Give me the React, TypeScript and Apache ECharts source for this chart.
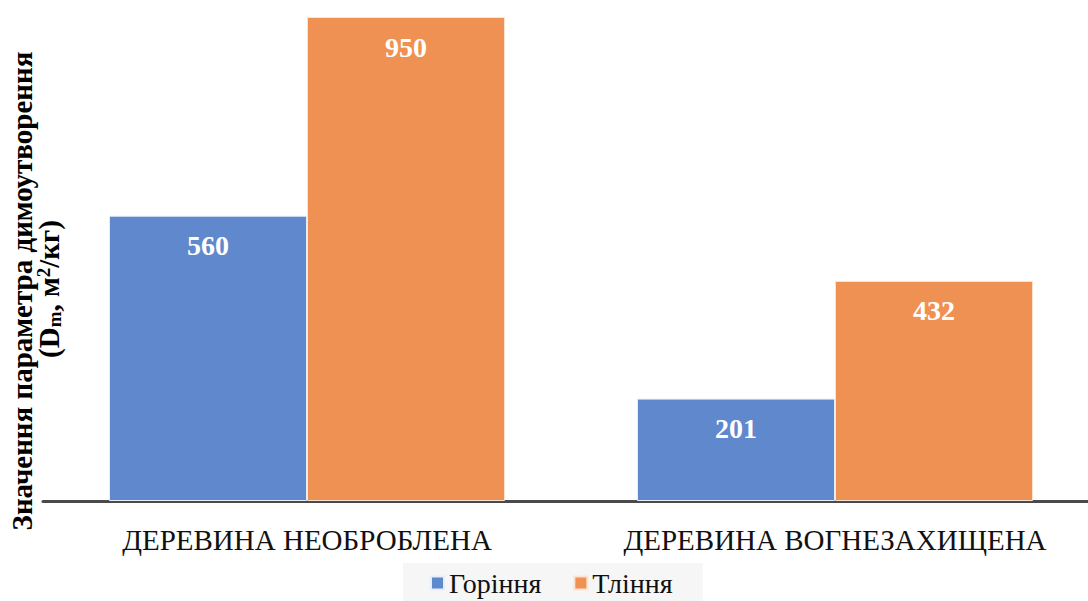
import React, { useEffect, useRef } from "react";
import * as echarts from "echarts";

const categories = ["ДЕРЕВИНА НЕОБРОБЛЕНА", "ДЕРЕВИНА ВОГНЕЗАХИЩЕНА"];
const seriesNames = ["Горіння", "Тління"];
const burning = [560, 201];
const smoldering = [950, 432];

const FONT = "Liberation Serif";

export default function App() {
  const ref = useRef<HTMLDivElement>(null);
  useEffect(() => {
    if (!ref.current) return;
    const chart = echarts.init(ref.current, undefined, { renderer: "svg" });
    const labelCfg = {
      show: true,
      position: "insideTop",
      distance: 16,
      color: "#ffffff",
      fontFamily: FONT,
      fontWeight: "bold",
      fontSize: 28,
    };
    chart.setOption({
      animation: false,
      backgroundColor: "#ffffff",
      textStyle: { fontFamily: FONT },
      grid: { left: 43, top: 17, width: 1056, height: 484, containLabel: false },
      xAxis: {
        type: "category",
        data: categories,
        axisLine: { show: true, lineStyle: { color: "#4a4a4a", width: 3 } },
        axisTick: { show: false },
        axisLabel: {
          interval: 0,
          hideOverlap: false,
          color: "#111",
          fontFamily: FONT,
          fontSize: 29,
          margin: 24,
        },
      },
      yAxis: {
        type: "value",
        min: 0,
        max: 950,
        show: false,
        splitLine: { show: false },
      },
      legend: {
        data: seriesNames,
        left: 403,
        top: 563,
        icon: "rect",
        itemWidth: 13,
        itemHeight: 13,
        itemGap: 32,
        padding: [6, 30, 6, 27],
        backgroundColor: "#f6f6f6",
        textStyle: { color: "#111", fontFamily: FONT, fontSize: 28 },
      },
      graphic: [
        {
          type: "text",
          x: 22,
          y: 291,
          rotation: Math.PI / 2,
          style: {
            text: "Значення параметра димоутворення",
            fontFamily: FONT,
            fontWeight: "bold",
            fontSize: 29,
            fill: "#000",
            align: "center",
            verticalAlign: "middle",
          },
        },
        {
          type: "text",
          x: 49,
          y: 289,
          rotation: Math.PI / 2,
          style: {
            text: "{n|(D}{sub|m}{n|, м}{sup|2}{n|/кг)}",
            fill: "#000",
            align: "center",
            verticalAlign: "middle",
            rich: {
              n: { fontFamily: FONT, fontWeight: "bold", fontSize: 29, fill: "#000" },
              sub: { fontFamily: FONT, fontWeight: "bold", fontSize: 19, fill: "#000", verticalAlign: "bottom", padding: [11, 0, 0, 0] },
              sup: { fontFamily: FONT, fontWeight: "bold", fontSize: 19, fill: "#000", verticalAlign: "top", padding: [0, 0, 11, 0] },
            },
          },
        },
      ],
      series: [
        {
          name: seriesNames[0],
          type: "bar",
          data: burning,
          barGap: "0%",
          barCategoryGap: "25%",
          itemStyle: { color: "#5f88cd", borderColor: "#e8eef8", borderWidth: 1 },
          label: labelCfg,
        },
        {
          name: seriesNames[1],
          type: "bar",
          data: smoldering,
          barGap: "0%",
          barCategoryGap: "25%",
          itemStyle: { color: "#ef9153", borderColor: "#fbe3d2", borderWidth: 1 },
          label: labelCfg,
        },
      ],
    });
    return () => chart.dispose();
  }, []);
  return (
    <div style={{ position: "absolute", left: 0, top: 0, width: 1088, height: 601, overflow: "hidden" }}>
      <div ref={ref} style={{ width: 1100, height: 601 }} />
    </div>
  );
}
